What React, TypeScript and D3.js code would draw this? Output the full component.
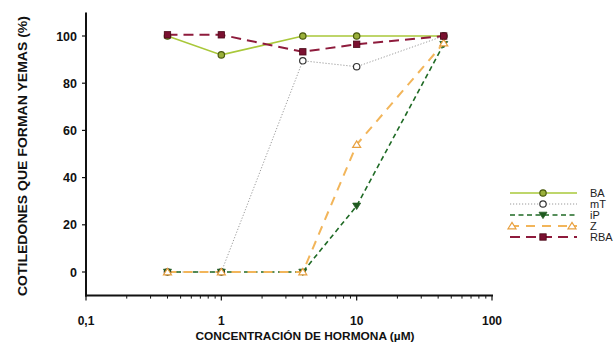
import React from "react";
import * as d3 from "d3";

const concentrations = [0.4, 1, 4, 10, 44];
const seriesNames = ["BA", "mT", "iP", "Z", "RBA"];
const baValues = [100, 92, 100, 100, 100];
const mtValues = [0, 0, 89.5, 87, 100];
const ipValues = [0, 0, 0, 28, 96.5];
const zValues = [0, 0, 0, 54, 97];
const rbaValues = [100.5, 100.5, 93.3, 96.5, 100];
const yTicks = [0, 20, 40, 60, 80, 100];
const xTickValues = [0.1, 1, 10, 100];
const xTickLabels = ["0,1", "1", "10", "100"];

type Style = {
  color: string;
  width: number;
  dash: string;
  marker: "circle" | "open" | "down" | "up" | "square";
  fill: string;
  stroke: string;
};

const styles: Record<string, Style> = {
  BA: { color: "#a9c83a", width: 1.6, dash: "", marker: "circle", fill: "#9ab03a", stroke: "#4a5a10" },
  mT: { color: "#9a9a9a", width: 1, dash: "1.2,1.8", marker: "open", fill: "#ffffff", stroke: "#333333" },
  iP: { color: "#1f6a25", width: 1.6, dash: "5,3.5", marker: "down", fill: "#1f5a20", stroke: "#1f5a20" },
  Z: { color: "#f2b55a", width: 2, dash: "9,7", marker: "up", fill: "#ffffff", stroke: "#e8a040" },
  RBA: { color: "#8e1b3c", width: 2, dash: "10,6", marker: "square", fill: "#7a1030", stroke: "#4a0818" },
};

const values: Record<string, number[]> = {
  BA: baValues,
  mT: mtValues,
  iP: ipValues,
  Z: zValues,
  RBA: rbaValues,
};

function Marker({ kind, x, y, st }: { kind: Style["marker"]; x: number; y: number; st: Style }) {
  if (kind === "circle" || kind === "open") {
    return <circle cx={x} cy={y} r={3.2} fill={st.fill} stroke={st.stroke} strokeWidth={1.2} />;
  }
  if (kind === "square") {
    return <rect x={x - 3.2} y={y - 3.2} width={6.4} height={6.4} fill={st.fill} stroke={st.stroke} strokeWidth={0.8} />;
  }
  const s = 4;
  if (kind === "down") {
    const p = `${x - s},${y - s * 0.7} ${x + s},${y - s * 0.7} ${x},${y + s * 0.9}`;
    return <polygon points={p} fill={st.fill} stroke={st.stroke} strokeWidth={0.8} />;
  }
  const p = `${x - s},${y + s * 0.7} ${x + s},${y + s * 0.7} ${x},${y - s * 0.9}`;
  return <polygon points={p} fill={st.fill} stroke={st.stroke} strokeWidth={1.2} />;
}

export default function App() {
  const W = 613;
  const H = 345;
  const x = d3.scaleLog().domain([0.1, 100]).range([86, 492]);
  const y = d3.scaleLinear().domain([-10, 110]).range([295.6, 12.4]);
  const line = d3
    .line<[number, number]>()
    .x((d) => x(d[0]))
    .y((d) => y(d[1]));

  const minorTicks: number[] = [];
  for (const dec of [0.1, 1, 10]) {
    for (let k = 2; k <= 9; k++) minorTicks.push(dec * k);
  }

  const legendX1 = 510;
  const legendX2 = 577;
  const legendRows = [193, 204, 215, 226, 237];

  return (
    <svg
      width={W}
      height={H}
      style={{ position: "absolute", left: 0, top: 0, background: "#fff" }}
      fontFamily="'Liberation Sans', Arial, sans-serif"
    >
      <rect width={W} height={H} fill="#fff" />
      {seriesNames.map((name) => {
        const st = styles[name];
        const pts = concentrations.map((c, i) => [c, values[name][i]] as [number, number]);
        return (
          <path
            key={name}
            d={line(pts) || ""}
            fill="none"
            stroke={st.color}
            strokeWidth={st.width}
            strokeDasharray={st.dash}
          />
        );
      })}
      {seriesNames.map((name) => {
        const st = styles[name];
        return (
          <g key={name + "m"}>
            {concentrations.map((c, i) => (
              <Marker key={i} kind={st.marker} x={x(c)} y={y(values[name][i])} st={st} />
            ))}
          </g>
        );
      })}

      <line x1={86} x2={86} y1={y(110)} y2={y(-10) + 1} stroke="#111" strokeWidth={2} />
      <line x1={85} x2={493} y1={y(-10)} y2={y(-10)} stroke="#111" strokeWidth={2} />
      {yTicks.map((t) => (
        <g key={t}>
          <line x1={82} x2={86} y1={y(t)} y2={y(t)} stroke="#111" strokeWidth={1.2} />
          <text x={77} y={y(t)} dy="0.36em" textAnchor="end" fontSize={12.5} fontWeight="bold" fill="#111">
            {t}
          </text>
        </g>
      ))}
      {xTickValues.map((t, i) => (
        <g key={t}>
          <line x1={x(t)} x2={x(t)} y1={y(-10)} y2={y(-10) + 5} stroke="#111" strokeWidth={1.2} />
          <text x={x(t)} y={325} textAnchor="middle" fontSize={12} fontWeight="bold" fill="#111">
            {xTickLabels[i]}
          </text>
        </g>
      ))}
      {minorTicks.map((t) => (
        <line key={t} x1={x(t)} x2={x(t)} y1={y(-10)} y2={y(-10) + 3} stroke="#111" strokeWidth={1} />
      ))}

      <text
        transform={`translate(22,156) rotate(-90)`}
        textAnchor="middle"
        dy="0.35em"
        fontSize={13}
        fontWeight="bold"
        fill="#111"
        textLength={280}
        lengthAdjust="spacingAndGlyphs"
      >
        COTILEDONES QUE FORMAN YEMAS (%)
      </text>
      <text
        x={305}
        y={339.5}
        textAnchor="middle"
        fontSize={10.5}
        fontWeight="bold"
        fill="#111"
        textLength={219}
        lengthAdjust="spacingAndGlyphs"
      >
        CONCENTRACIÓN DE HORMONA (µM)
      </text>

      {seriesNames.map((name, i) => {
        const st = styles[name];
        const ly = legendRows[i];
        const mid = 543;
        return (
          <g key={name + "l"}>
            <line
              x1={legendX1}
              x2={legendX2}
              y1={ly}
              y2={ly}
              stroke={st.color}
              strokeWidth={st.width}
              strokeDasharray={st.dash}
            />
            {name === "Z" ? (
              <>
                <Marker kind={st.marker} x={512} y={ly} st={st} />
                <Marker kind={st.marker} x={572} y={ly} st={st} />
              </>
            ) : (
              <Marker kind={st.marker} x={mid} y={ly} st={st} />
            )}
            <text x={590} y={ly} dy="0.36em" fontSize={11} fill="#222">
              {name}
            </text>
          </g>
        );
      })}
    </svg>
  );
}
